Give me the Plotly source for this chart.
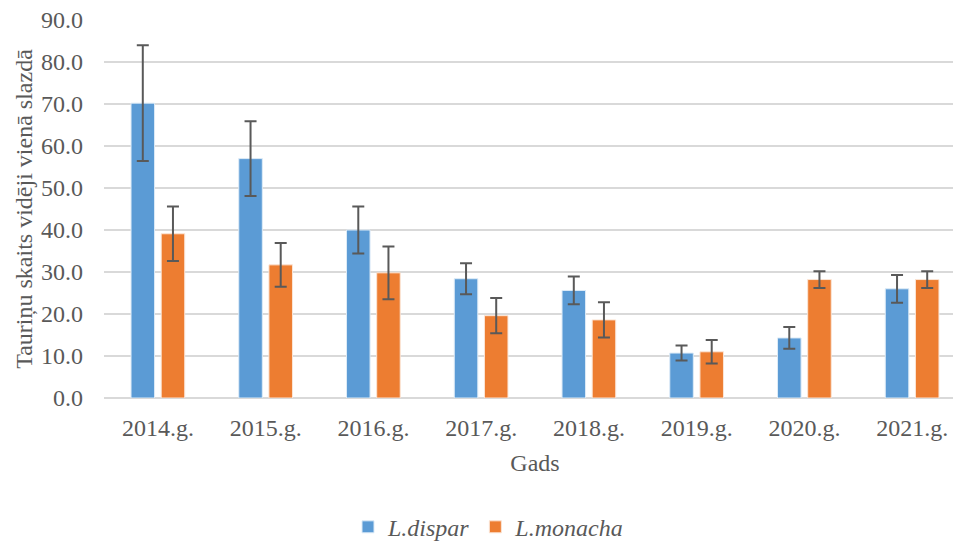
import plotly.graph_objects as go

years = ["2014.g.", "2015.g.", "2016.g.", "2017.g.", "2018.g.", "2019.g.", "2020.g.", "2021.g."]
dispar = [70.2, 57.0, 40.0, 28.4, 25.6, 10.7, 14.3, 26.0]
dispar_err = [13.8, 8.9, 5.6, 3.7, 3.3, 1.8, 2.6, 3.3]
monacha = [39.1, 31.7, 29.8, 19.6, 18.6, 11.0, 28.2, 28.2]
monacha_err = [6.5, 5.2, 6.3, 4.2, 4.2, 2.8, 2.0, 2.0]

FONT = "Liberation Serif, Times New Roman, serif"
TXT = "#595959"
ERR_COLOR = "#595959"
FS = 24

fig = go.Figure()
fig.add_trace(go.Bar(
    x=years, y=dispar, name="<i>L.dispar</i>",
    marker=dict(color="#5B9BD5", line=dict(color="#DDEBF7", width=1)),
    error_y=dict(type="data", array=dispar_err, color=ERR_COLOR, thickness=2, width=6),
))
fig.add_trace(go.Bar(
    x=years, y=monacha, name="<i>L.monacha</i>",
    marker=dict(color="#ED7D31", line=dict(color="#FBE5D6", width=1)),
    error_y=dict(type="data", array=monacha_err, color=ERR_COLOR, thickness=2, width=6),
))

fig.update_layout(
    width=961, height=542,
    margin=dict(l=96, r=3, t=12, b=152),
    paper_bgcolor="white", plot_bgcolor="white",
    barmode="group", bargap=0.44, bargroupgap=0.22,
    font=dict(family=FONT, size=FS, color=TXT),
    showlegend=True,
    legend=dict(orientation="h", xref="container", x=0.5, xanchor="center",
                yref="container", y=0.042, yanchor="middle",
                font=dict(family=FONT, size=FS, color=TXT),
                itemwidth=30, traceorder="normal"),
    xaxis=dict(
        automargin=False,
        showgrid=False, showline=False, ticks="", ticklabelstandoff=13,
        tickfont=dict(family=FONT, size=FS, color=TXT),
        title=dict(text="Gads", font=dict(family=FONT, size=FS, color=TXT), standoff=14),
    ),
    yaxis=dict(
        automargin=False, ticklabeloverflow="allow",
        range=[0, 90], tickmode="linear", tick0=0, dtick=10, tickformat=".1f",
        showgrid=True, gridcolor="#D9D9D9", gridwidth=1.5,
        zeroline=True, zerolinecolor="#D9D9D9", zerolinewidth=1.5,
        showline=False, ticks="", ticklabelstandoff=20,
        tickfont=dict(family=FONT, size=FS, color=TXT),
        title=dict(text="Tauriņu skaits vidēji vienā slazdā",
                   font=dict(family=FONT, size=FS, color=TXT), standoff=1),
    ),
)

fig.write_html("out.html")
